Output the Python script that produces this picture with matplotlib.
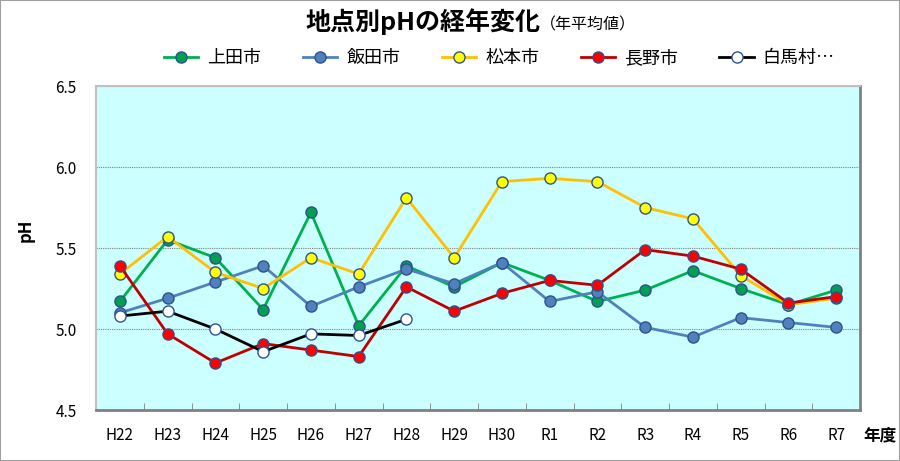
import matplotlib
matplotlib.use("Agg")
import matplotlib.pyplot as plt
from matplotlib.patches import Rectangle

plt.rcParams['font.family'] = ['Noto Sans CJK JP', 'DejaVu Sans']

years = ['H22', 'H23', 'H24', 'H25', 'H26', 'H27', 'H28', 'H29',
         'H30', 'R1', 'R2', 'R3', 'R4', 'R5', 'R6', 'R7']

ueda = [5.17, 5.55, 5.44, 5.12, 5.72, 5.02, 5.39, 5.26,
        5.41, 5.30, 5.17, 5.24, 5.36, 5.25, 5.15, 5.24]
iida = [5.10, 5.19, 5.29, 5.39, 5.14, 5.26, 5.37, 5.28,
        5.41, 5.17, 5.23, 5.01, 4.95, 5.07, 5.04, 5.01]
matsumoto = [5.34, 5.57, 5.35, 5.25, 5.44, 5.34, 5.81, 5.44,
             5.91, 5.93, 5.91, 5.75, 5.68, 5.33, 5.15, 5.19]
nagano = [5.39, 4.97, 4.79, 4.91, 4.87, 4.83, 5.26, 5.11,
          5.22, 5.30, 5.27, 5.49, 5.45, 5.37, 5.16, 5.20]
hakuba = [5.08, 5.11, 5.00, 4.86, 4.97, 4.96, 5.06]

series = [
    ('上田市', ueda, '#00B050', '#00A050'),
    ('飯田市', iida, '#4F81BD', '#4F81BD'),
    ('松本市', matsumoto, '#FFC000', '#FFFF00'),
    ('長野市', nagano, '#C00000', '#FF0000'),
    ('白馬村…', hakuba, '#000000', '#FFFFFF'),
]

fig = plt.figure(figsize=(9, 4.61), dpi=100)
fig.patches.append(Rectangle((0, 0), 1, 1, transform=fig.transFigure,
                             fill=False, edgecolor='#A0A0A0', linewidth=1.5))

ax = fig.add_axes([0.1067, 0.1106, 0.8489, 0.7028])
ax.set_facecolor('#CCFFFF')

x = list(range(len(years)))
for name, vals, lc, fc in series:
    ax.plot(x[:len(vals)], vals, color=lc, linewidth=2, marker='o',
            markersize=8, markerfacecolor=fc, markeredgecolor='#2F528F',
            markeredgewidth=1, label=name)

ax.set_xlim(-0.5, len(years) - 0.5)
ax.set_ylim(4.5, 6.5)
ax.set_yticks([4.5, 5.0, 5.5, 6.0, 6.5])
ax.set_yticklabels(['4.5', '5.0', '5.5', '6.0', '6.5'], fontsize=11)
ax.set_xticks(x)
ax.set_xticklabels(years, fontsize=11)
ax.set_xticks([i + 0.5 for i in range(len(years) - 1)], minor=True)
ax.tick_params(axis='x', which='major', length=0, pad=12)
ax.tick_params(axis='x', which='minor', direction='in', length=5, color='#808080')
ax.tick_params(axis='y', length=0, pad=14)
ax.grid(axis='y', linestyle=(0, (1, 1)), color='#808080', linewidth=0.8)
ax.set_axisbelow(True)

for side in ['top', 'left']:
    ax.spines[side].set_color('#C0C0C0')
    ax.spines[side].set_linewidth(1.5)
for side in ['right', 'bottom']:
    ax.spines[side].set_color('#808080')
    ax.spines[side].set_linewidth(2)

fig.text(0.028, 0.5, 'pH', rotation=90, fontsize=12, fontweight='bold',
         ha='center', va='center')
fig.text(0.978, 0.055, '年度', fontsize=12, fontweight='bold',
         ha='center', va='center')

# title: bold main part + smaller note in full-width brackets
fig.text(0.600, 0.935, '地点別pHの経年変化', fontsize=18, fontweight='bold',
         ha='right', va='baseline')
fig.text(0.600, 0.935, '（年平均値）', fontsize=11.5, ha='left', va='baseline')

fig.legend(loc='center', bbox_to_anchor=(0.555, 0.874), ncol=5, frameon=False,
           fontsize=13, handlelength=1.9, handletextpad=0.5, columnspacing=2.3)

fig.savefig('out.png', dpi=100)
